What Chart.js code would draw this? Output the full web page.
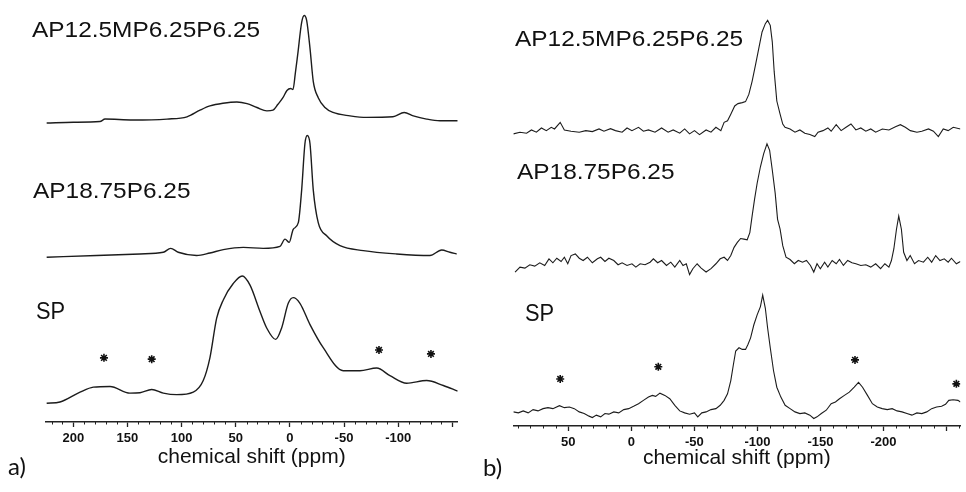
<!DOCTYPE html>
<html>
<head>
<meta charset="utf-8">
<script src="https://cdn.jsdelivr.net/npm/chart.js@4.4.1/dist/chart.umd.min.js"></script>
<style>
  body { margin:0; background:#fff; width:966px; height:492px; overflow:hidden; position:relative;
         font-family:"Liberation Sans", Arial, sans-serif; color:#111; }
  canvas { position:absolute; top:0; }
  .lbl { position:absolute; white-space:nowrap; transform-origin:0 0; color:#111; }
  .name { font-size:22px; line-height:22px; transform:scaleX(1.11); }
  .sp { font-size:23px; line-height:23px; transform:scaleX(0.95); }
  .panel { font-family:Lato, "Open Sans", sans-serif; font-size:24px; line-height:24px; }
</style>
</head>
<body>
<canvas id="chartA" width="480" height="492" style="left:0"></canvas>
<canvas id="chartB" width="486" height="492" style="left:480px"></canvas>

<div class="lbl name" style="left:31.7px;top:18.7px">AP12.5MP6.25P6.25</div>
<div class="lbl name" style="left:33.3px;top:180.4px">AP18.75P6.25</div>
<div class="lbl sp" style="left:36px;top:299.5px">SP</div>
<div class="lbl name" style="left:515px;top:28.1px">AP12.5MP6.25P6.25</div>
<div class="lbl name" style="left:516.7px;top:161.4px">AP18.75P6.25</div>
<div class="lbl sp" style="left:524.5px;top:302.2px">SP</div>
<div class="lbl panel" style="left:8px;top:453.7px">a)</div>
<div class="lbl panel" style="left:483px;top:454.7px">b)</div>

<script>
// ---------- panel a) ----------
// AP12.5MP6.25P6.25
var ppmA1 = [224.6, 200, 175.4, 170.7, 144.9, 113.5, 95, 83, 73.8, 61.8, 48.9, 39.6, 30.4, 21.2, 15.6, 11, 6.4, 2.7, -0.7, -2.9, -5, -7.2, -10.9, -13.3, -15.5, -18.6, -21.6, -26.2, -32.4, -39.8, -55.5, -70.9, -95.2, -105.6, -114, -126.3, -138.6, -155];
var intA1 = [0, 0.8, 1.5, 4, 3, 4, 6.3, 13, 17.3, 20, 21.3, 19.7, 15.7, 12.3, 13, 19, 25.7, 33, 35, 34, 50, 69, 102, 109, 104, 75.7, 42.3, 25.7, 15.7, 10.7, 7.3, 5.7, 6.3, 10.7, 7.3, 4, 2.3, 2.3];
// AP18.75P6.25
var ppmA2 = [224.6, 178.4, 138.4, 116.9, 110.1, 103.1, 86.1, 73.8, 61.5, 43, 24.6, 9.1, 4.5, 0.6, -3.1, -7.8, -10.9, -13.9, -16.1, -18.6, -21.6, -26.2, -34, -46.3, -67.8, -98.6, -129.4, -140.2, -147.8, -154];
var intA2 = [0, 1.7, 3.3, 5, 9, 5, 1.7, 4.3, 7.7, 10, 9, 11, 18.3, 15, 28.3, 35, 68.3, 115, 123.3, 115, 68.3, 35, 21.7, 11.7, 6.7, 3.3, 1.7, 7.3, 5, 3.3];
// SP
var ppmA3 = [224.6, 212.3, 193.8, 181.5, 166.1, 147.7, 138.4, 127.6, 116.9, 104.5, 89.2, 80, 73.8, 67.6, 61.5, 52.3, 44, 36.8, 27.6, 21.4, 13.1, 7.6, 1.5, -3.1, -9.3, -18.6, -30.8, -49.3, -64.7, -80.2, -92.4, -107.9, -126.3, -141.7, -155];
var intA3 = [0, 1.3, 11.3, 16.3, 17, 10.3, 10.7, 14, 10.3, 8.7, 11.3, 23, 46.3, 86.3, 104.7, 121.3, 129, 119.7, 93, 76.3, 64.7, 76.3, 101.3, 107, 101.3, 79.7, 56.3, 33, 33, 35.7, 28, 20.3, 23, 18, 12.3];
var offsetsA = [303, 167, 19];          // stacking of the three traces
var starPpmA = [171.7, 127.6, -82.3, -130.3];   // spinning side bands (SP)
var starIntA = [46, 44.7, 54, 50];
var rangeA = [-155, 225.5];
var majorA = [-150, -100, -50, 0, 50, 100, 150, 200];
var hiddenA = [-150];

// ---------- panel b) ----------
var ppmB1 = [93.5, 88.3, 83.1, 79.2, 75.3, 71.3, 67.4, 63.5, 60.9, 56.4,
  53.1, 47.8, 41.3, 36.1, 30.9, 25.6, 21.7, 16.5, 12.6, 7.3,
  3.4, -0.5, -5.7, -9.6, -13.6, -18.8, -24, -29.2, -33.2, -38.4,
  -42.3, -46.2, -50.1, -54.1, -59.3, -63.2, -67.1, -71, -73.6, -76.3,
  -78.9, -82, -84.6, -88, -90.6, -93.2, -95.8, -98.5, -101.1, -103.7,
  -106.3, -108.1, -110.2, -111.8, -113.3, -115.4, -118, -120.1, -121.9, -125.9,
  -129.8, -133.7, -137.6, -141.6, -145.5, -148.1, -152, -155.9, -158.5, -162.5,
  -166.4, -170.3, -174.2, -178.1, -182, -186, -189.9, -193.8, -199.1, -204.3,
  -209.5, -213.4, -217.3, -221.3, -226.5, -230.4, -235.7, -239.6, -243.5, -247.4,
  -251.3, -255.3, -261];
var intB1 = [0, 1.7, 0.7, 4, 1.7, 6, 3.3, 6.7, 5, 11.7,
  4, 2.7, 1.7, 3.3, 2.3, 5, 2.7, 5.3, 3.3, 1.7,
  6, 3.3, 6.7, 2.7, 4, 1.7, 6, 1.7, 4, 0.7,
  5, 0, 3.3, -0.7, 4, 1.7, 6.7, 3.3, 11.7, 13.3,
  20, 28.3, 30.7, 31.7, 32.7, 40, 53.3, 70, 86.7, 103.3,
  111.7, 115, 110, 93.3, 63.3, 33.3, 20, 10, 6.7, 5,
  1.7, 4, 0.7, -0.7, -2.7, 1.7, 3.3, 6, 2.7, 9.3,
  3.3, 6.7, 10, 4, 6, 2.7, 5, 1.7, 5, 4,
  7.3, 9.3, 6.7, 3.3, 1.7, 2.7, 5, 2.7, -2.7, 5,
  3.3, 6.7, 5];
var ppmB2 = [92.2, 88.3, 84.4, 80.5, 76.6, 72.6, 68.7, 65.3, 62.2, 59.1,
  55.7, 53.1, 50.4, 47.8, 44.4, 41.3, 38.2, 34.8, 30.9, 26.9,
  24.3, 20.9, 17.8, 13.9, 10.5, 7.3, 3.4, -0.5, -3.6, -7,
  -10.9, -14.9, -17.5, -20.9, -24, -27.9, -31.3, -34.5, -38.4, -41,
  -43.6, -46.2, -48.8, -52.2, -55.4, -59.3, -63.2, -67.1, -70.5, -73.6,
  -76.3, -78.9, -81.5, -84.1, -86.7, -89.3, -91.9, -94, -95.8, -97.7,
  -99.8, -102.4, -105, -107.6, -109.7, -111.8, -114.1, -116, -118, -120.1,
  -122.7, -125.9, -129.3, -132.4, -135.8, -138.9, -142.1, -144.7, -147.3, -149.9,
  -153.3, -155.9, -159.3, -162.5, -165.1, -168.2, -171.6, -175, -178.1, -182,
  -186, -189.9, -193.8, -197.7, -201.1, -204.3, -206.3, -208.2, -210.3, -212.1,
  -214.2, -216, -218.6, -221.2, -224.6, -227.8, -231.7, -235.1, -238.2, -241.4,
  -244.8, -248.2, -251.3, -253.9, -257.8, -261];
var intB2 = [-6.7, -1.7, -2.7, 0.7, -0.7, 2.7, 0, 6.7, 2.7, 7.3,
  4, 8.3, 1.7, 10, 11.7, 7.3, 5, 8.3, 2.7, 6.7,
  8.3, 4, 7.3, 5, 0.7, 2.7, 0, 1.7, -1.7, 1.7,
  0.7, 3.3, 6.7, 2.7, 5, 0, 3.3, -1.7, 5, 0,
  1.7, -9.3, -3.3, 1.7, -2.7, -6.7, -3.3, 1.7, 6.7, 8.3,
  5, 10, 18.3, 23.3, 27.3, 26.7, 26, 33.3, 50, 66.7,
  83.3, 100, 113.3, 123.3, 116.7, 96.7, 73.3, 46.7, 36.7, 20,
  8.3, 6, 1.7, 5, 3.3, 5, 0, -6.7, 1.7, -3.3,
  3.3, -1.7, 5, 1.7, 6, 0, 5, 2.7, 1.7, 0,
  0.7, -1.7, 1.7, -3.3, 1.7, -1.7, 5, 16.7, 36.7, 50,
  36.7, 13.3, 5, 10, 1.7, 5, 3.3, 8.3, 3.3, 10,
  5, 6.7, 3.3, 7.3, 1.7, 4];
var ppmB3 = [93.5, 89.6, 85.7, 81.8, 77.9, 74, 70, 66.1, 62.2, 57,
  53.1, 49.1, 45.2, 41.3, 37.4, 33.5, 30.9, 27.7, 24.3, 20.9,
  17.8, 13.9, 10, 6, 2.1, -1.8, -5.7, -9.6, -13.6, -16.7,
  -19.3, -22.7, -26.6, -30.5, -34.5, -38.4, -42.3, -46.2, -50.1, -52.7,
  -55.9, -59.3, -63.2, -67.1, -70.5, -73.6, -76.3, -78.9, -81, -82.8,
  -85.4, -88, -90.6, -92.5, -94.6, -97.2, -99.8, -102.4, -104.2, -106.3,
  -108.1, -110.2, -112.8, -115.4, -118.6, -122, -125.9, -129.8, -133.7, -137.6,
  -141.6, -144.7, -147.3, -150.7, -154.6, -158.5, -161.9, -165.1, -169, -172.9,
  -176.8, -180.2, -183.4, -187.3, -191.2, -195.1, -199, -203, -206.9, -210.8,
  -214.7, -218.6, -222.5, -226.5, -230.4, -234.3, -238.2, -242.1, -246.1, -249.2,
  -251.8, -255.2, -259.1, -261];
var intB3 = [0, -1, 1, -1, 2.3, 1, 3.3, 4.3, 3.3, 6.3,
  4.3, 5, 3.3, 0, -1.7, -4.3, -5.7, -3.3, -5, -1.7,
  -2.3, 0, -1, 2.3, 3.3, 5.7, 8.3, 11.7, 15, 16.7,
  15.7, 19, 16.7, 13.3, 6.7, 1, -1, -2.3, -1, -5,
  -1, 0, 2.3, 3.3, 6.7, 11.7, 18.3, 31.7, 48.3, 61.7,
  65, 63.3, 63.3, 68.3, 75, 88.3, 98.3, 106.7, 118.3, 105,
  85, 65, 41.7, 25, 15, 6.7, 3.3, 0, -1.7, -1,
  -3.3, -6.7, -5, -1.7, 1.7, 8.3, 10, 13.3, 16.7, 20,
  25, 30, 25, 16.7, 8.3, 5, 3.3, 2.3, 3.3, 1,
  0, -1.7, -3.3, -1, -1.7, 0, 3.3, 5, 5.7, 7.7,
  11.7, 12.3, 11.7, 10];
var offsetsB = [296, 162.7, 14.3];
var starPpmB = [56.4, -21.4, -177.4, -257.8];
var starIntB = [33.4, 45.7, 52.7, 28.4];
var rangeB = [-261, 93.6];
var majorB = [-250, -200, -150, -100, -50, 0, 50];
var hiddenB = [-250];

var lineColor = '#1c1c1c';
var fontFam = '"Liberation Sans", Arial, sans-serif';

function toPoints(ppm, inten, offset) {
  var pts = [];
  var n = Math.min(ppm.length, inten.length);
  for (var i = 0; i < n; i++) pts.push({x: ppm[i], y: inten[i] + offset});
  return pts;
}

// small ticks every 10 ppm between the labelled ones
var minorTicks = {
  id: 'minorTicks',
  afterDraw: function(chart) {
    var sc = chart.scales.x;
    var ctx = chart.ctx;
    ctx.save();
    ctx.strokeStyle = '#222';
    ctx.lineWidth = 1;
    for (var v = Math.ceil(sc.min / 10) * 10; v <= sc.max; v += 10) {
      if (v % 50 === 0) continue;
      var px = Math.round(sc.getPixelForValue(v)) + 0.5;
      ctx.beginPath();
      ctx.moveTo(px, sc.top);
      ctx.lineTo(px, sc.top + 2.5);
      ctx.stroke();
    }
    ctx.restore();
  }
};

function makeChart(id, traces, offsets, starPpm, starInt, range, majors, hidden, smooth, lw, pad, axisH, plotH) {
  var datasets = [];
  for (var k = 0; k < traces.length; k++) {
    datasets.push({
      data: toPoints(traces[k][0], traces[k][1], offsets[k]),
      borderColor: lineColor,
      borderWidth: lw,
      pointRadius: 0,
      fill: false,
      tension: 0,
      cubicInterpolationMode: smooth ? 'monotone' : 'default'
    });
  }
  var last = offsets[offsets.length - 1];
  datasets.push({
    type: 'scatter',
    data: starPpm.map(function(p, i) { return {x: p, y: starInt[i] + last}; }),
    pointStyle: 'star',
    pointRadius: 4,
    borderColor: '#111',
    borderWidth: 1.6,
    showLine: false
  });

  return new Chart(document.getElementById(id), {
    type: 'line',
    data: {datasets: datasets},
    options: {
      responsive: false,
      animation: false,
      events: [],
      layout: {padding: pad},
      plugins: {legend: {display: false}, tooltip: {enabled: false}},
      scales: {
        x: {
          type: 'linear',
          reverse: true,
          min: range[0],
          max: range[1],
          afterBuildTicks: function(s) { s.ticks = majors.map(function(v) { return {value: v}; }); },
          afterFit: function(s) { s.height = axisH; },
          ticks: {
            autoSkip: false, maxRotation: 0, padding: 4, color: '#111',
            font: {family: fontFam, size: 13, weight: 'bold'},
            callback: function(v) { return hidden.indexOf(v) >= 0 ? '' : String(v); }
          },
          grid: {drawOnChartArea: false, drawTicks: true, tickLength: 5, tickWidth: 1.3, tickColor: '#222'},
          border: {display: true, color: '#222', width: 1.5},
          title: {display: true, text: 'chemical shift (ppm)', color: '#111',
                  font: {family: fontFam, size: 21}, padding: 0}
        },
        y: {display: false, min: 0, max: plotH}
      }
    },
    plugins: [minorTicks]
  });
}

makeChart('chartA', [[ppmA1, intA1], [ppmA2, intA2], [ppmA3, intA3]], offsetsA, starPpmA, starIntA,
  rangeA, majorA, hiddenA, true, 1.4, {left: 45.7, right: 22.3, top: 0, bottom: 22.4}, 47.6, 422);
makeChart('chartB', [[ppmB1, intB1], [ppmB2, intB2], [ppmB3, intB3]], offsetsB, starPpmB, starIntB,
  rangeB, majorB, hiddenB, false, 1.1, {left: 33.3, right: 0, top: 0, bottom: 21.4}, 44.6, 426);
</script>
</body>
</html>
